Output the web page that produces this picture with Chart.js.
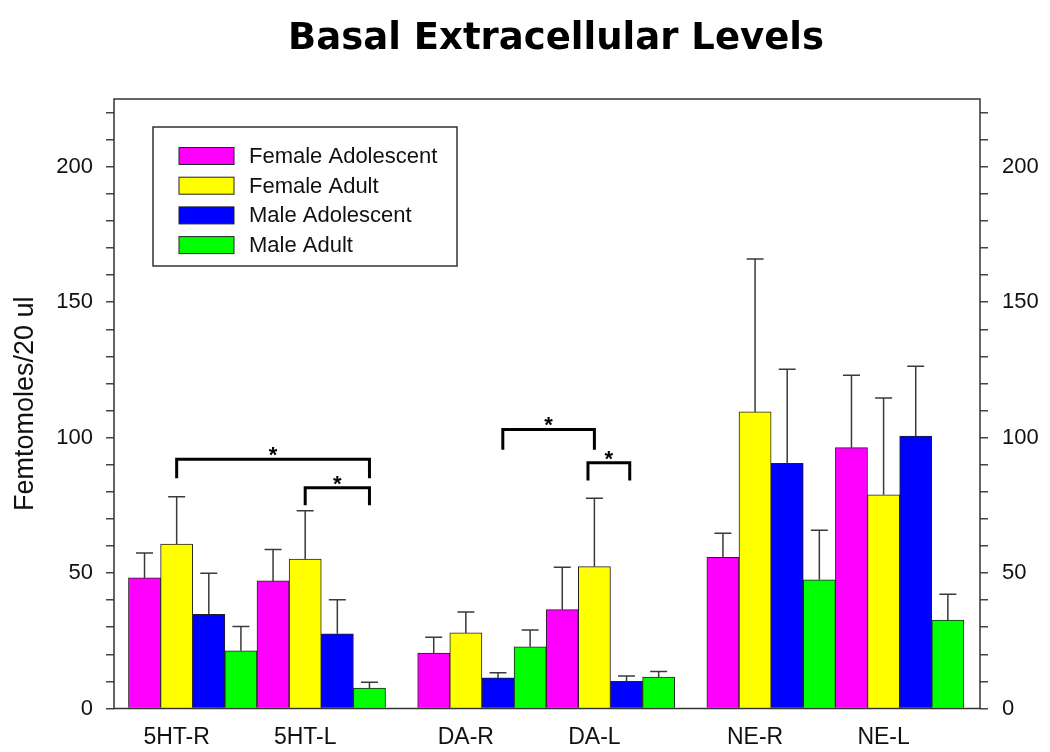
<!DOCTYPE html>
<html>
<head>
<meta charset="utf-8">
<script src="https://cdn.jsdelivr.net/npm/chart.js@4"></script>
<style>
  body { margin: 0; background: #fff; }
</style>
</head>
<body>
<canvas id="levelsChart" width="1050" height="752"></canvas>
<script>
// categories + series (mean, and error above the bar)
const categories = ['5HT-R', '5HT-L', 'DA-R', 'DA-L', 'NE-R', 'NE-L'];
const seriesNames = ['Female Adolescent', 'Female Adult', 'Male Adolescent', 'Male Adult'];
const seriesColors = ['#ff00ff', '#ffff00', '#0000ff', '#00ff00'];

const femaleAdolescent    = [48.2, 47.1, 20.5, 36.5, 55.8, 96.3];
const femaleAdolescentErr = [9.2, 11.6, 5.8, 15.6, 8.9, 26.7];
const femaleAdult         = [60.7, 55.2, 27.9, 52.4, 109.5, 78.9];
const femaleAdultErr      = [17.5, 17.8, 7.7, 25.2, 56.4, 35.7];
const maleAdolescent      = [34.8, 27.6, 11.3, 10.0, 90.5, 100.6];
const maleAdolescentErr   = [15.1, 12.5, 1.9, 2.0, 34.7, 25.7];
const maleAdult           = [21.3, 7.5, 22.8, 11.6, 47.5, 32.6];
const maleAdultErr        = [9.0, 2.2, 6.2, 2.1, 18.3, 9.6];

const yMax = 225;
const yLabelStep = 50;

// significance brackets: [category, bar position inside the group]
const brackets = [
    { from: [0, 1], to: [1, 3], y: 92, drop: 7 },
    { from: [1, 1], to: [1, 3], y: 81.5, drop: 6.5 },
    { from: [2, 2.15], to: [3, 1], y: 103, drop: 7.5 },
    { from: [3, 0.8], to: [3, 2.1], y: 90.7, drop: 6.5 }
];

const values = [femaleAdolescent, femaleAdult, maleAdolescent, maleAdult];
const errors = [femaleAdolescentErr, femaleAdultErr, maleAdolescentErr, maleAdultErr];

// every bar gets its own slot, one empty slot between the 5HT / DA / NE pairs
function slot(g, s) {
    return g * 4 + s + Math.floor(g / 2);
}

const datasets = seriesNames.map((name, s) => ({
    label: name,
    data: categories.map((c, g) => ({ x: slot(g, s), y: values[s][g] })),
    backgroundColor: seriesColors[s],
    borderColor: '#222',
    borderWidth: 1,
    borderSkipped: 'bottom',
    barPercentage: 1,
    categoryPercentage: 1,
    grouped: false,
    errors: errors[s]
}));

const errorBars = {
    id: 'errorBars',
    afterDatasetsDraw(chart) {
        const ctx = chart.ctx;
        const y = chart.scales.y;
        ctx.save();
        ctx.strokeStyle = '#3a3a3a';
        ctx.lineWidth = 1.5;
        chart.data.datasets.forEach((ds, i) => {
            chart.getDatasetMeta(i).data.forEach((bar, j) => {
                const top = y.getPixelForValue(ds.data[j].y + ds.errors[j]);
                ctx.beginPath();
                ctx.moveTo(bar.x, bar.y);
                ctx.lineTo(bar.x, top);
                ctx.moveTo(bar.x - 8.5, top);
                ctx.lineTo(bar.x + 8.5, top);
                ctx.stroke();
            });
        });
        ctx.restore();
    }
};

const decorations = {
    id: 'decorations',
    afterDraw(chart) {
        const ctx = chart.ctx;
        const ca = chart.chartArea;
        const x = chart.scales.x, y = chart.scales.y;
        ctx.save();

        // frame
        ctx.strokeStyle = '#333';
        ctx.lineWidth = 1.5;
        ctx.strokeRect(ca.left, ca.top, ca.right - ca.left, ca.bottom - ca.top);

        // title
        ctx.fillStyle = '#000';
        ctx.font = 'bold 37px "DejaVu Sans"';
        ctx.textAlign = 'center';
        ctx.textBaseline = 'alphabetic';
        ctx.fillText('Basal Extracellular Levels', (ca.left + ca.right) / 2 + 9, 49);

        // brackets + stars
        ctx.lineWidth = 3;
        ctx.strokeStyle = '#000';
        brackets.forEach(b => {
            const x1 = x.getPixelForValue(slot(b.from[0], b.from[1]));
            const x2 = x.getPixelForValue(slot(b.to[0], b.to[1]));
            const yl = y.getPixelForValue(b.y);
            const yd = y.getPixelForValue(b.y - b.drop);
            ctx.beginPath();
            ctx.moveTo(x1, yd);
            ctx.lineTo(x1, yl);
            ctx.lineTo(x2, yl);
            ctx.lineTo(x2, yd);
            ctx.stroke();
            ctx.font = 'bold 22px "Liberation Sans"';
            ctx.fillText('*', (x1 + x2) / 2, yl + 3);
        });

        // legend box
        const lx = ca.left + 39, ly = ca.top + 28;
        ctx.lineWidth = 1.5;
        ctx.strokeStyle = '#333';
        ctx.strokeRect(lx, ly, 304, 139);
        ctx.font = '22px "Liberation Sans"';
        ctx.textAlign = 'left';
        ctx.textBaseline = 'middle';
        seriesNames.forEach((name, s) => {
            const cy = ly + 29 + s * 29.7;
            ctx.fillStyle = seriesColors[s];
            ctx.fillRect(lx + 26, cy - 8.5, 55, 17);
            ctx.lineWidth = 1;
            ctx.strokeStyle = '#222';
            ctx.strokeRect(lx + 26, cy - 8.5, 55, 17);
            ctx.fillStyle = '#111';
            ctx.fillText(name, lx + 96, cy + 1);
        });
        ctx.restore();
    }
};

const yTickOpts = {
    min: 0,
    max: yMax,
    ticks: {
        stepSize: 10,
        maxTicksLimit: 40,
        autoSkip: false,
        includeBounds: false,
        padding: 13,
        color: '#111',
        font: { family: 'Liberation Sans', size: 22 },
        callback: v => (v % yLabelStep === 0 ? v : '')
    },
    grid: { drawOnChartArea: false, drawTicks: true, tickLength: 8, color: '#444', lineWidth: 1.5 },
    border: { display: false }
};

new Chart(document.getElementById('levelsChart'), {
    type: 'bar',
    data: { datasets },
    options: {
        responsive: false,
        animation: false,
        layout: { padding: { top: 99, left: 0, right: 0, bottom: 0 } },
        plugins: { legend: { display: false }, title: { display: false }, tooltip: { enabled: false } },
        scales: {
            x: {
                type: 'linear',
                offset: false,
                min: slot(0, 0) - 0.95,
                max: slot(5, 3) + 1,
                grid: { display: false, drawTicks: false },
                border: { display: false },
                afterBuildTicks: s => { s.ticks = categories.map((c, g) => ({ value: slot(g, 1) })); },
                afterFit: s => { s.height = 43.5; },
                ticks: {
                    padding: 15,
                    autoSkip: false,
                    maxRotation: 0,
                    color: '#111',
                    font: { family: 'Liberation Sans', size: 23 },
                    callback: (v) => categories[categories.findIndex((c, g) => slot(g, 1) === v)]
                }
            },
            y: Object.assign({}, yTickOpts, {
                position: 'left',
                afterFit: s => { s.width = 114; },
                title: {
                    display: true,
                    text: 'Femtomoles/20 ul',
                    color: '#111',
                    font: { family: 'Liberation Sans', size: 27 },
                    padding: { top: 9, bottom: 0 }
                }
            }),
            y2: Object.assign({}, yTickOpts, {
                position: 'right',
                afterFit: s => { s.width = 70; },
                ticks: Object.assign({}, yTickOpts.ticks, { padding: 14 })
            })
        }
    },
    plugins: [errorBars, decorations]
});
</script>
</body>
</html>
